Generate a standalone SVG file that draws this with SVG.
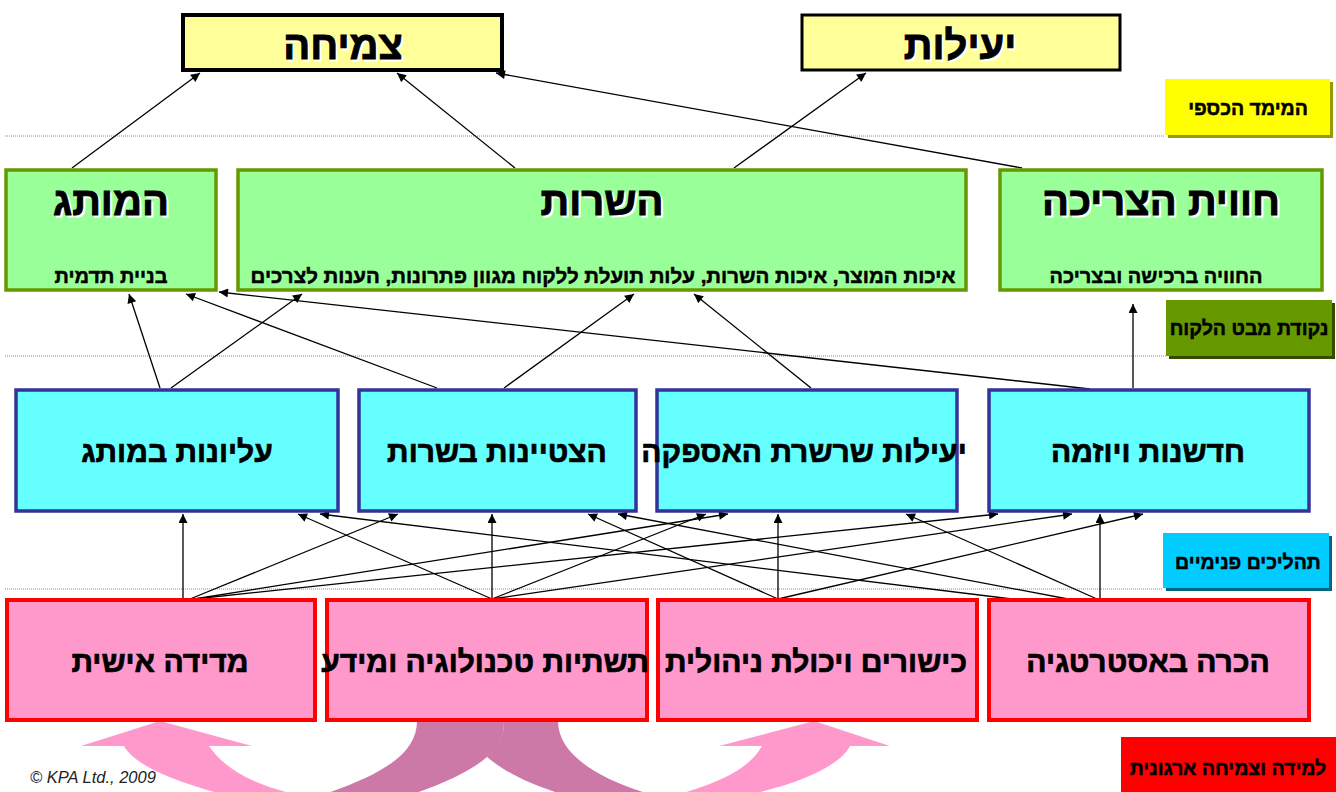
<svg xmlns="http://www.w3.org/2000/svg" width="1336" height="792" viewBox="0 0 1336 792">
  <defs>
    <marker id="ah" viewBox="0 0 10 10" refX="10" refY="5" markerWidth="11" markerHeight="9" orient="auto" markerUnits="userSpaceOnUse">
      <path d="M0,0 L10,5 L0,10 z" fill="#000"/>
    </marker>
  </defs>
  <style>
    text { font-family: "Liberation Sans", Arial, "DejaVu Sans", sans-serif; font-weight: bold; text-anchor: middle; direction: rtl; fill: #000; stroke: #000; stroke-width: 0.5; }
    .goal { fill: #FFFF99; stroke: #000; stroke-width: 4; }
    .cust { fill: #99FF99; stroke: #669900; stroke-width: 3.5; }
    .proc { fill: #66FFFF; stroke: #333399; stroke-width: 3.5; }
    .learn { fill: #FF99CC; stroke: #FF0000; stroke-width: 4; }
    .t1 { font-size: 40px; stroke-width: 0.9; }
    .t2 { font-size: 40px; stroke-width: 0.9; }
    .sub { font-size: 20px; }
    .wide { font-size: 20.5px; }
    .t3 { font-size: 30px; stroke-width: 0.7; }
    .lbl { font-size: 19.5px; }
    text.hl { fill: #fff; stroke: #fff; }
    .sep { stroke: #888; stroke-width: 1; stroke-dasharray: 1 1; fill: none; }
    .conn line { stroke: #000; stroke-width: 1.3; marker-end: url(#ah); }
  </style>

  <rect width="1336" height="792" fill="#fff"/>

  <!-- layer separators -->
  <line class="sep" x1="5" y1="136" x2="1165" y2="136"/>
  <line class="sep" x1="5" y1="356" x2="1166" y2="356"/>
  <line class="sep" x1="5" y1="589" x2="1163" y2="589"/>

  <!-- perspective labels -->
  <g id="label-financial">
    <rect x="1168" y="82" width="165" height="56" fill="#999900"/>
    <rect x="1165" y="79" width="165" height="56" fill="#FFFF00"/>
    <text class="lbl" x="1248" y="115">המימד הכספי</text>
  </g>
  <g id="label-customer">
    <rect x="1169" y="303" width="166" height="56" fill="#334d00"/>
    <rect x="1166" y="300" width="166" height="56" fill="#669900"/>
    <text class="lbl" x="1249" y="335">נקודת מבט הלקוח</text>
  </g>
  <g id="label-internal">
    <rect x="1166" y="536" width="166" height="55" fill="#006680"/>
    <rect x="1163" y="533" width="166" height="55" fill="#00CCFF"/>
    <text class="lbl" x="1248" y="569">תהליכים פנימיים</text>
  </g>
  <g id="label-learning">
    <rect x="1121" y="737" width="215" height="55" fill="#FF0000"/>
    <text class="lbl" x="1228" y="775">למידה וצמיחה ארגונית</text>
  </g>

  <!-- bottom flow arrows -->
  <g id="flow-arrows">
    <path d="M417,721 L504,721 C504,740 497,750 487,757 C470,772 440,785 410,795 L322,795 C380,775 417,755 417,721 Z" fill="#CC79A7"/>
    <path d="M504,721 L558,721 C558,755 600,780 653,795 L565,795 C530,785 505,772 487,757 C498,748 504,738 504,721 Z" fill="#CC79A7"/>
    <path d="M160,721 L252,746 L209,746 C225,770 255,785 298,795 L225,795 C170,780 135,765 124,746 L81,746 Z" fill="#FF99CC"/>
    <path d="M814,721 L890,746 L850,746 C840,765 805,782 748,795 L676,795 C720,783 750,768 762,746 L719,746 Z" fill="#FF99CC"/>
  </g>

  <text x="30" y="783" style="font-size:16.5px;font-weight:normal;font-style:italic;direction:ltr;text-anchor:start;fill:#222;stroke:none">© KPA Ltd., 2009</text>

  <!-- connectors -->
  <g id="connectors" class="conn">
    <line x1="72" y1="168" x2="200" y2="73"/>
    <line x1="515" y1="168" x2="397" y2="73"/>
    <line x1="734" y1="168" x2="866" y2="73"/>
    <line x1="1022" y1="168" x2="496" y2="73"/>

    <line x1="160" y1="388" x2="129" y2="294"/>
    <line x1="171" y1="388" x2="302" y2="294"/>
    <line x1="437" y1="388" x2="186" y2="294"/>
    <line x1="504" y1="388" x2="634" y2="294"/>
    <line x1="1090" y1="389" x2="219" y2="292"/>
    <line x1="811" y1="388" x2="694" y2="294"/>
    <line x1="1133" y1="388" x2="1133" y2="304"/>

    <line x1="183" y1="599" x2="183" y2="514"/>
    <line x1="190" y1="599" x2="398" y2="514"/>
    <line x1="194" y1="599" x2="728" y2="514"/>
    <line x1="194" y1="599" x2="998" y2="514"/>
    <line x1="492" y1="599" x2="492" y2="514"/>
    <line x1="492" y1="599" x2="298" y2="514"/>
    <line x1="492" y1="599" x2="706" y2="514"/>
    <line x1="492" y1="599" x2="1072" y2="514"/>
    <line x1="778" y1="599" x2="778" y2="514"/>
    <line x1="778" y1="599" x2="588" y2="514"/>
    <line x1="778" y1="599" x2="1143" y2="514"/>
    <line x1="1100" y1="599" x2="1100" y2="514"/>
    <line x1="1097" y1="599" x2="906" y2="514"/>
    <line x1="1068" y1="599" x2="618" y2="514"/>
    <line x1="1012" y1="599" x2="320" y2="514"/>
  </g>

  <!-- financial goals -->
  <g id="growth">
    <rect class="goal" x="183" y="15" width="319" height="55"/>
    <text class="t1 hl" x="345" y="61">צמיחה</text>
    <text class="t1" x="343" y="59">צמיחה</text>
  </g>
  <g id="efficiency">
    <rect class="goal" x="802" y="15" width="318" height="55" style="stroke-width:3"/>
    <text class="t1 hl" x="962" y="61">יעילות</text>
    <text class="t1" x="960" y="59">יעילות</text>
  </g>

  <!-- customer perspective -->
  <g id="brand">
    <rect class="cust" x="6" y="170" width="210" height="120"/>
    <text class="t2 hl" x="113" y="217">המותג</text>
    <text class="t2" x="111" y="215">המותג</text>
    <text class="sub" x="111" y="283">בניית תדמית</text>
  </g>
  <g id="service">
    <rect class="cust" x="238" y="170" width="728" height="120"/>
    <text class="t2 hl" x="604" y="217">השרות</text>
    <text class="t2" x="602" y="215">השרות</text>
    <text class="wide" x="603" y="283">איכות המוצר, איכות השרות, עלות תועלת ללקוח מגוון פתרונות, הענות לצרכים</text>
  </g>
  <g id="experience">
    <rect class="cust" x="1000" y="170" width="322" height="120"/>
    <text class="t2 hl" x="1163" y="217">חווית הצריכה</text>
    <text class="t2" x="1161" y="215">חווית הצריכה</text>
    <text class="sub" x="1156" y="283">החוויה ברכישה ובצריכה</text>
  </g>

  <!-- internal processes -->
  <g id="brand-excellence">
    <rect class="proc" x="16" y="390" width="322" height="121"/>
    <text class="t3" x="177" y="462">עליונות במותג</text>
  </g>
  <g id="service-excellence">
    <rect class="proc" x="359" y="390" width="277" height="121"/>
    <text class="t3" x="497" y="462">הצטיינות בשרות</text>
  </g>
  <g id="supply-chain">
    <rect class="proc" x="657" y="390" width="300" height="121"/>
    <text class="t3" x="804" y="462">יעילות שרשרת האספקה</text>
  </g>
  <g id="innovation">
    <rect class="proc" x="989" y="390" width="320" height="121"/>
    <text class="t3" x="1148" y="462">חדשנות ויוזמה</text>
  </g>

  <!-- learning and growth -->
  <g id="personal-measurement">
    <rect class="learn" x="7" y="600" width="308" height="120"/>
    <text class="t3" x="160" y="672">מדידה אישית</text>
  </g>
  <g id="tech-infrastructure">
    <rect class="learn" x="327" y="600" width="320" height="120"/>
    <text class="t3" x="485" y="672">תשתיות טכנולוגיה ומידע</text>
  </g>
  <g id="management-skills">
    <rect class="learn" x="658" y="600" width="319" height="120"/>
    <text class="t3" x="816" y="672">כישורים ויכולת ניהולית</text>
  </g>
  <g id="strategy-awareness">
    <rect class="learn" x="989" y="600" width="320" height="120"/>
    <text class="t3" x="1148" y="672">הכרה באסטרטגיה</text>
  </g>
</svg>
